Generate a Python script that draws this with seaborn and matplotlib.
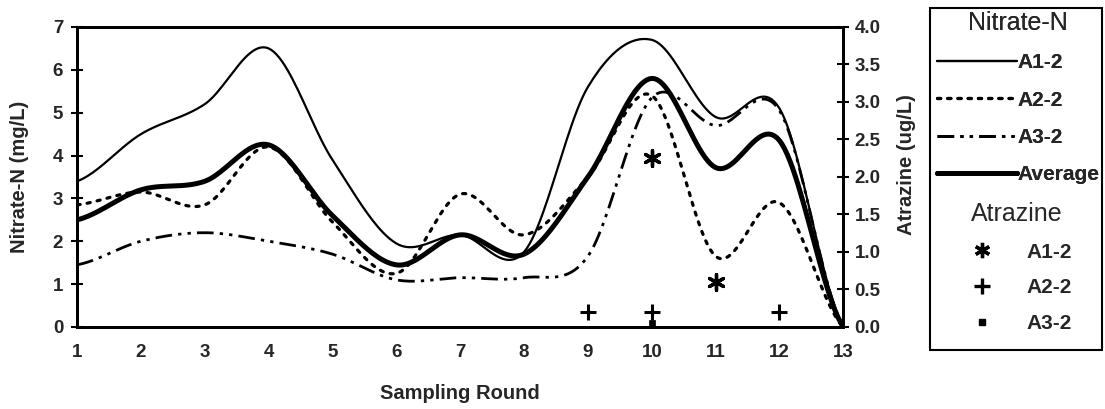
import numpy as np
import pandas as pd
import matplotlib
matplotlib.use("Agg")
import matplotlib.pyplot as plt
from matplotlib.lines import Line2D
from matplotlib.patches import Rectangle
import seaborn as sns

# ---------------- data ----------------
rounds = list(range(1, 14))
nitrate_a1 = [3.4, 4.5, 5.2, 6.5, 3.9, 1.95, 2.15, 1.75, 5.6, 6.7, 4.9, 5.1, 0.0]
nitrate_a2 = [2.85, 3.15, 2.85, 4.2, 2.45, 1.25, 3.1, 2.15, 3.5, 5.4, 1.65, 2.9, 0.0]
nitrate_a3 = [1.45, 2.0, 2.2, 2.0, 1.7, 1.1, 1.15, 1.15, 1.65, 5.35, 4.7, 5.05, 0.0]
nitrate_avg = [2.5, 3.2, 3.4, 4.25, 2.6, 1.45, 2.15, 1.7, 3.5, 5.8, 3.72, 4.35, 0.0]

atr_a1_rounds = [10, 11]
atr_a1_vals = [2.25, 0.6]
atr_a2_rounds = [9, 10, 12]
atr_a2_vals = [0.2, 0.2, 0.2]
atr_a3_rounds = [10]
atr_a3_vals = [0.05]

x_ticks = list(range(1, 14))
left_ticks = list(range(0, 8))
right_ticks = [0.0, 0.5, 1.0, 1.5, 2.0, 2.5, 3.0, 3.5, 4.0]


def smooth(xv, yv, n=24):
    """Catmull-Rom smoothing like a spreadsheet 'smoothed line'."""
    xv = np.asarray(xv, float)
    yv = np.asarray(yv, float)
    m = len(yv)
    xs, ys = [], []
    t = np.linspace(0, 1, n, endpoint=False)
    for i in range(m - 1):
        p0 = yv[i - 1] if i > 0 else yv[i]
        p1, p2 = yv[i], yv[i + 1]
        p3 = yv[i + 2] if i + 2 < m else yv[i + 1]
        yy = 0.5 * ((2 * p1) + (-p0 + p2) * t + (2 * p0 - 5 * p1 + 4 * p2 - p3) * t ** 2
                    + (-p0 + 3 * p1 - 3 * p2 + p3) * t ** 3)
        xx = xv[i] + (xv[i + 1] - xv[i]) * t
        xs.append(xx)
        ys.append(yy)
    xs.append([xv[-1]])
    ys.append([yv[-1]])
    return np.concatenate(xs), np.concatenate(ys)


sns.set_style("white")
plt.rcParams['font.family'] = ['Liberation Sans', 'DejaVu Sans']

fig = plt.figure(figsize=(11.05, 4.09), dpi=100)
ax = fig.add_axes([0.0697, 0.2005, 0.6935, 0.7335])
ax2 = ax.twinx()

black = "black"
styles = [
    (nitrate_a1, dict(lw=1.6, linestyle='-')),
    (nitrate_a2, dict(lw=2.3, linestyle=(0, (1.0, 2.2)), dash_capstyle='round')),
    (nitrate_a3, dict(lw=2.0, linestyle=(0, (6, 2.2, 1.2, 2.2, 1.2, 2.2)))),
    (nitrate_avg, dict(lw=3.6, linestyle='-')),
]
for vals, kw in styles:
    xs, ys = smooth(rounds, vals)
    df = pd.DataFrame({"x": xs, "y": ys})
    sns.lineplot(data=df, x="x", y="y", ax=ax, color=black, estimator=None,
                 sort=False, legend=False, **kw)

# atrazine markers on right axis
sns.scatterplot(x=atr_a1_rounds, y=atr_a1_vals, ax=ax2, marker=(6, 2, 0), s=130,
                color=black, linewidth=2.4, legend=False)
sns.scatterplot(x=atr_a2_rounds, y=atr_a2_vals, ax=ax2, marker='+', s=130,
                color=black, linewidth=2.2, legend=False)
sns.scatterplot(x=atr_a3_rounds, y=atr_a3_vals, ax=ax2, marker='s', s=22,
                color=black, edgecolor=black, linewidth=0.5, legend=False)

ax.set_xlim(1, 13)
ax.set_ylim(0, 7)
ax2.set_ylim(0, 4)
ax.set_xticks(x_ticks)
ax.set_yticks(left_ticks)
ax2.set_yticks(right_ticks)
tfs = 13.5
ax.set_xticklabels([str(v) for v in x_ticks], fontsize=tfs, fontweight='bold')
ax.set_yticklabels([str(v) for v in left_ticks], fontsize=tfs, fontweight='bold')
ax2.set_yticklabels([f"{v:.1f}" for v in right_ticks], fontsize=tfs, fontweight='bold')

for a in (ax, ax2):
    for s in a.spines.values():
        s.set_visible(True)
        s.set_linewidth(2.0)
        s.set_color(black)
    a.grid(False)
ax.tick_params(axis='both', direction='inout', length=8, width=1.5, color=black, pad=6)
ax2.tick_params(axis='y', direction='inout', length=8, width=1.5, color=black, pad=4)
ax.tick_params(axis='x', pad=8)

lfs = 14.5
ax.set_xlabel("Sampling Round", fontsize=lfs, fontweight='bold')
ax.xaxis.set_label_coords(0.5, -0.19)
ax.set_ylabel("Nitrate-N (mg/L)", fontsize=lfs, fontweight='bold')
ax.yaxis.set_label_coords(-0.063, 0.5)
ax2.set_ylabel("Atrazine (ug/L)", fontsize=lfs, fontweight='bold', rotation=90)
ax2.yaxis.set_label_coords(1.07, 0.54)

# legends
line_handles = [Line2D([], [], color=black, **st[1]) for st in styles]
line_labels = ["A1-2", "A2-2", "A3-2", "Average"]
leg1 = fig.legend(line_handles, line_labels, title="Nitrate-N", loc='upper left',
                  bbox_to_anchor=(937 / 1105, 1 - 11 / 409), frameon=False, handlelength=3.85,
                  handletextpad=0.0, labelspacing=0.88, borderpad=0,
                  prop={'size': 15, 'weight': 'bold'},
                  title_fontsize=18, alignment='center', borderaxespad=0)
mk_handles = [
    Line2D([], [], color=black, marker=(6, 2, 0), markersize=11, markeredgewidth=2.4, linestyle='None'),
    Line2D([], [], color=black, marker='+', markersize=11, markeredgewidth=2.4, linestyle='None'),
    Line2D([], [], color=black, marker='s', markersize=5, linestyle='None'),
]
mk_labels = ["A1-2", "A2-2", "A3-2"]
leg2 = fig.legend(mk_handles, mk_labels, title="Atrazine", loc='upper left',
                  bbox_to_anchor=(961 / 1105, 1 - 202 / 409), frameon=False, handlelength=2.0,
                  handletextpad=1.15, labelspacing=0.8, borderpad=0,
                  prop={'size': 15, 'weight': 'bold'},
                  title_fontsize=18, alignment='center', borderaxespad=0)
fig.add_artist(leg1)
fig.add_artist(Rectangle((930 / 1105, 1 - 350 / 409), 172 / 1105, 342 / 409,
                         transform=fig.transFigure, fill=False, lw=1.5, color=black))

fig.savefig("out.png", dpi=100, facecolor='white')
